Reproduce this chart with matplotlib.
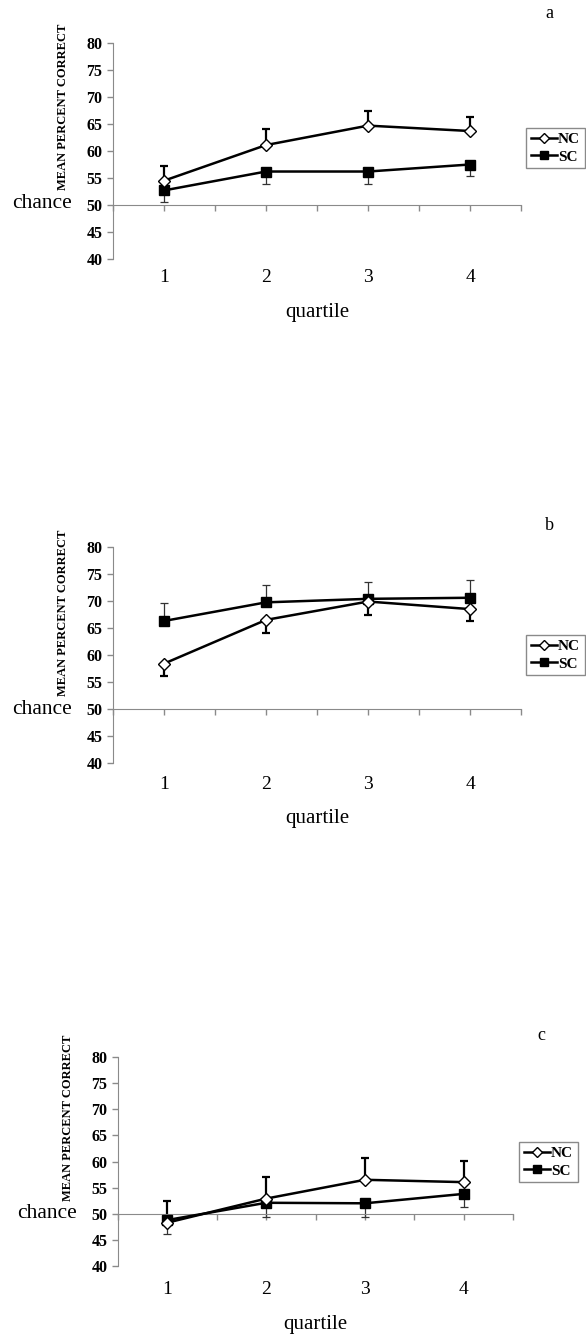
import matplotlib
matplotlib.use("Agg")
from matplotlib import pyplot as plt
from matplotlib import transforms
import numpy as np

plt.rcParams['font.family'] = ['Liberation Serif', 'DejaVu Serif']

quartiles = [1, 2, 3, 4]
tick_labels = ["1", "2", "3", "4"]
panel_names = ["a", "b", "c"]

# panel a
nc_a = [54.5, 61.1, 64.7, 63.7]
nc_a_err = [2.7, 2.9, 2.7, 2.6]
sc_a = [52.7, 56.2, 56.2, 57.5]
sc_a_err = [2.2, 2.4, 2.4, 2.2]

# panel b
nc_b = [58.4, 66.5, 69.9, 68.5]
nc_b_err = [2.3, 2.5, 2.4, 2.2]
sc_b = [66.3, 69.75, 70.4, 70.6]
sc_b_err = [3.4, 3.3, 3.2, 3.3]

# panel c
nc_c = [48.3, 52.9, 56.5, 56.05]
nc_c_err = [4.2, 4.1, 4.1, 4.05]
sc_c = [48.8, 52.1, 52.0, 53.8]
sc_c_err = [2.6, 2.7, 2.6, 2.5]

W, H = 586, 1334
fig = plt.figure(figsize=(W / 100, H / 100), dpi=100)
GREY = "#8a8a8a"


def px(x, y):
    return x / W, 1 - y / H


def draw_panel(rect, nc, nc_err, sc, sc_err, nc_up, name, off, leg_xy, name_xy):
    # rect in pixels: left, top(80), right, bottom(40)
    l, t, r, b = rect
    ax = fig.add_axes([l / W, 1 - b / H, (r - l) / W, (b - t) / H])
    ax.set_xlim(0.5, 4.5)
    ax.set_ylim(40, 80)
    zeros = np.zeros(4)
    nc_yerr = [zeros, nc_err] if nc_up else [nc_err, zeros]
    sc_yerr = [sc_err, zeros] if nc_up else [zeros, sc_err]
    ax.errorbar(quartiles, nc, yerr=nc_yerr, fmt='none', ecolor='black',
                elinewidth=1.6, capsize=2.6, capthick=1.6, zorder=2, clip_on=False)
    ax.errorbar(quartiles, sc, yerr=sc_yerr, fmt='none', ecolor='#333333',
                elinewidth=0.9, capsize=2.6, capthick=0.9, zorder=2, clip_on=False)
    l1, = ax.plot(quartiles, sc, color='black', lw=1.8, marker='s', ms=7.5,
                  mfc='black', mec='black', zorder=3, label='SC', clip_on=False)
    l2, = ax.plot(quartiles, nc, color='black', lw=1.8, marker='D', ms=6.5,
                  mfc='white', mec='black', mew=1.0, zorder=4, label='NC', clip_on=False)

    for s in ['top', 'right']:
        ax.spines[s].set_visible(False)
    ax.spines['left'].set_color(GREY)
    ax.spines['bottom'].set_color(GREY)
    ax.spines['bottom'].set_position(('data', 50))
    ax.set_yticks(np.arange(40, 81, 5))
    ax.tick_params(axis='y', colors=GREY, length=4, width=1, direction='out')
    for lab in ax.get_yticklabels():
        lab.set_color('black')
        lab.set_fontweight('bold')
        lab.set_fontsize(11.5)
    ax.set_xticks(np.arange(0.5, 4.51, 0.5))
    ax.tick_params(axis='x', colors=GREY, length=4, width=1, direction='out',
                   labelbottom=False)

    tr = transforms.blended_transform_factory(ax.transData, fig.transFigure)
    for q, lab in zip(quartiles, tick_labels):
        ax.text(q, 1 - (278 + off) / H, lab, transform=tr, ha='center',
                va='center', fontsize=14)
    fig.text(*px(l + (r - l) / 2, 313 + off), "quartile", ha='center',
             va='center', fontsize=15)
    fig.text(*px(l - 41, 203 + off), "chance", ha='right', va='center',
             fontsize=15.5)
    fig.text(*px(l - 50, 107 + off), "MEAN PERCENT CORRECT", rotation=90,
             ha='center', va='center', fontsize=9, fontweight='bold')
    fig.text(*px(*name_xy), name, ha='center', va='center', fontsize=13)

    ax.legend([l2, l1], ['NC', 'SC'], loc='upper left',
              bbox_to_anchor=px(*leg_xy), bbox_transform=fig.transFigure,
              fancybox=False, edgecolor=GREY, framealpha=1,
              prop={'weight': 'bold', 'size': 11}, handlelength=1.7,
              handletextpad=0.1, borderpad=0.3, labelspacing=0.25,
              borderaxespad=0, markerscale=0.85)
    return ax


draw_panel((113, 43, 521, 259), nc_a, nc_a_err, sc_a, sc_a_err, True,
           panel_names[0], 0, (526, 128), (549, 14))
draw_panel((113, 547, 521, 763), nc_b, nc_b_err, sc_b, sc_b_err, False,
           panel_names[1], 506, (526, 635), (549, 525))
draw_panel((118, 1057, 513, 1266), nc_c, nc_c_err, sc_c, sc_c_err, True,
           panel_names[2], 1011, (519, 1142), (541, 1035))

fig.savefig("out.png", dpi=100)
